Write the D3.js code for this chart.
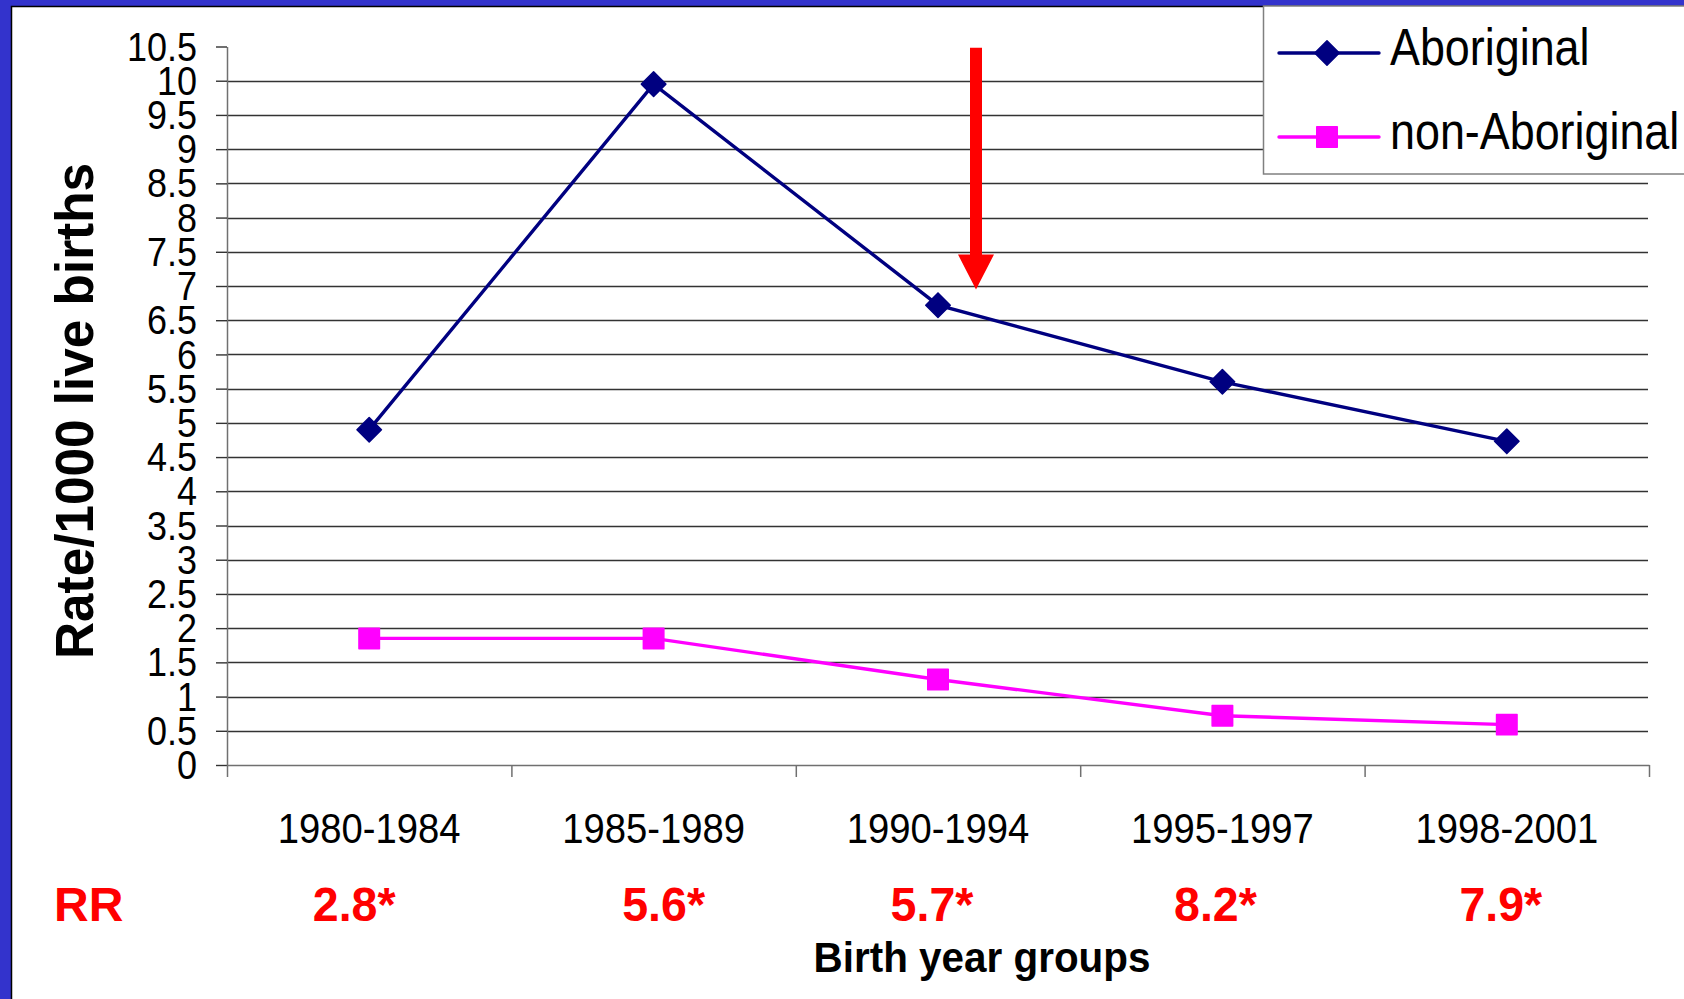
<!DOCTYPE html>
<html>
<head>
<meta charset="utf-8">
<script src="https://cdnjs.cloudflare.com/ajax/libs/d3/7.8.5/d3.min.js"></script>
<style>
html, body { margin:0; padding:0; background:#fff; }
svg { display:block; font-family:"Liberation Sans", Arial, sans-serif; }
</style>
</head>
<body>
<svg id="chart"></svg>
<script>

/*Values*/
var groups = ["1980-1984", "1985-1989", "1990-1994", "1995-1997", "1998-2001"];
var aboriginal = [4.9, 9.95, 6.72, 5.6, 4.73];
var nonAboriginal = [1.85, 1.85, 1.25, 0.72, 0.59];
var rrLabels = ["2.8*", "5.6*", "5.7*", "8.2*", "7.9*"];
var yTicks = [0, 0.5, 1, 1.5, 2, 2.5, 3, 3.5, 4, 4.5, 5, 5.5, 6, 6.5, 7, 7.5, 8, 8.5, 9, 9.5, 10, 10.5];
var seriesNames = ["Aboriginal", "non-Aboriginal"];
//red arrow annotation, from / to (rate units)
var arrowSpan = [10.48, 6.95];

/*Layout and styles*/
var local = {
    "width":1684,
    "height":999,
    "left":227,
    "right":1649,
    "top":46.5,
    "bottom":765,
    "navy":"#000080",
    "pink":"#ff00ff",
    "red":"#ff0000",
    "frame":"#3333cc",
    "grid":"#333333",
    "axis":"#707070",
    //RR text boxes are not quite centred under the groups
    "rrShift":[-15, 10, -6, -7, -6]
}

var svg = d3.select("#chart")
    .attr("width", local.width)
    .attr("height", local.height);

svg.append("rect").attr("width", local.width).attr("height", local.height).attr("fill", "#fff");

//blue slide frame, top and left
svg.append("rect").attr("x",0).attr("y",0).attr("width",local.width).attr("height",6).attr("fill",local.frame);
svg.append("rect").attr("x",0).attr("y",0).attr("width",11).attr("height",local.height).attr("fill",local.frame);
svg.append("path").attr("d","M11.5,999V6.5H1684").attr("fill","none").attr("stroke","#000").attr("stroke-width",1.5);

/*Scales*/
var x = d3.scaleBand().domain(groups).range([local.left, local.right]).padding(0);
var xEdge = d3.scaleLinear().domain([0, groups.length]).range([local.left, local.right]);
var y = d3.scaleLinear().domain([0, 10.5]).range([local.bottom, local.top]);

function xc(d) { return x(d) + x.bandwidth() / 2; }

//squeeze text a bit horizontally, like the original
function squeeze(sel, dx, dy, sx) {
    sel.attr("transform", "translate(" + dx + "," + dy + ") scale(" + sx + ",1)");
}

//Gridlines
svg.append("g")
    .selectAll("line")
    .data(yTicks.filter(function(d){ return d > 0 && d < 10.5; }))
    .enter()
    .append("line")
    .attr("x1", local.left)
    .attr("x2", local.right - 1)
    .attr("y1", function(d){ return Math.round(y(d)) + 0.5; })
    .attr("y2", function(d){ return Math.round(y(d)) + 0.5; })
    .attr("stroke", local.grid)
    .attr("stroke-width", 1.4);

//Y axis
var yAxis = svg.append("g")
    .attr("transform", "translate(" + local.left + ",0)")
    .call(d3.axisLeft(y).tickValues(yTicks).tickSize(11).tickSizeOuter(0)
        .tickFormat(function(d){ return d % 1 ? d.toFixed(1) : d; }));
yAxis.select(".domain").attr("stroke", local.axis).attr("stroke-width", 1.5);
yAxis.selectAll(".tick line").attr("stroke", local.grid).attr("stroke-width", 1.4);
yAxis.selectAll(".tick text")
    .attr("x", 0)
    .attr("dy", "0.34em")
    .attr("fill", "#000")
    .attr("font-size", 40)
    .attr("font-family", "Liberation Sans, Arial, sans-serif")
    .attr("transform", "translate(-30,0) scale(0.9,1)");

//X axis, ticks between the groups
var xAxis = svg.append("g")
    .attr("transform", "translate(0," + local.bottom + ")")
    .call(d3.axisBottom(xEdge).tickValues(d3.range(groups.length + 1)).tickSize(12).tickSizeOuter(0).tickFormat(""));
xAxis.select(".domain").attr("stroke", local.axis).attr("stroke-width", 1.5);
xAxis.selectAll(".tick line").attr("stroke", local.axis).attr("stroke-width", 1.5);

//Category labels
svg.append("g")
    .selectAll("text")
    .data(groups)
    .enter()
    .append("text")
    .attr("text-anchor", "middle")
    .attr("font-size", 42)
    .text(function(d){ return d; })
    .each(function(d){ squeeze(d3.select(this), xc(d), 843, 0.91); });

//RR row
svg.append("text")
    .attr("x", 54).attr("y", 921)
    .attr("font-size", 48).attr("font-weight", "bold")
    .attr("fill", local.red)
    .text("RR");

svg.append("g")
    .selectAll("text")
    .data(rrLabels)
    .enter()
    .append("text")
    .attr("text-anchor", "middle")
    .attr("font-size", 48)
    .attr("font-weight", "bold")
    .attr("fill", local.red)
    .text(function(d){ return d; })
    .each(function(d, i){ squeeze(d3.select(this), xc(groups[i]) + local.rrShift[i], 921, 0.97); });

//Axis titles
svg.append("text")
    .attr("text-anchor", "middle")
    .attr("font-size", 43)
    .attr("font-weight", "bold")
    .text("Birth year groups")
    .call(squeeze, 982, 972, 0.94);

svg.append("text")
    .attr("text-anchor", "middle")
    .attr("font-size", 54)
    .attr("font-weight", "bold")
    .attr("transform", "translate(93,411) rotate(-90) scale(0.95,1)")
    .text("Rate/1000 live births");

/*Series*/
var series = [
    {name: seriesNames[0], values: aboriginal, colour: local.navy, shape: "diamond"},
    {name: seriesNames[1], values: nonAboriginal, colour: local.pink, shape: "square"}
];

var line = d3.line()
    .x(function(d, i){ return xc(groups[i]); })
    .y(function(d){ return y(d); });

var diamond = d3.symbol().type(d3.symbolSquare).size(300);
var square = d3.symbol().type(d3.symbolSquare).size(420);

function marker(sel, s, px, py) {
    sel.append("path")
        .attr("d", s.shape == "diamond" ? diamond() : square())
        .attr("transform", "translate(" + px + "," + py + ")" + (s.shape == "diamond" ? " rotate(45)" : ""))
        .attr("fill", s.colour)
        .attr("stroke", s.colour)
        .attr("stroke-width", 1.5)
        .attr("stroke-linejoin", "round");
}

series.forEach(function(s){
    svg.append("path")
        .datum(s.values)
        .attr("d", line)
        .attr("fill", "none")
        .attr("stroke", s.colour)
        .attr("stroke-width", 3.4);
    var g = svg.append("g");
    s.values.forEach(function(v, i){ marker(g, s, xc(groups[i]), y(v)); });
});

//Red arrow pointing down at 1990-1994
var ax = xc(groups[2]) + 38;
var a0 = y(arrowSpan[0]), a1 = y(arrowSpan[1]);
svg.append("path")
    .attr("d", "M" + (ax - 6) + "," + a0 + "H" + (ax + 6) + "V" + (a1 - 35) + "H" + (ax + 18) +
        "L" + ax + "," + a1 + "L" + (ax - 18) + "," + (a1 - 35) + "H" + (ax - 6) + "Z")
    .attr("fill", local.red);

/*Legend*/
var legend = svg.append("g");
legend.append("rect")
    .attr("x", 1263.5).attr("y", 6).attr("width", 500).attr("height", 168)
    .attr("fill", "#fff").attr("stroke", "#808080").attr("stroke-width", 1.5);

var legendRows = [53, 137];
series.forEach(function(s, i){
    var ly = legendRows[i];
    legend.append("line")
        .attr("x1", 1279).attr("x2", 1379).attr("y1", ly).attr("y2", ly)
        .attr("stroke", s.colour).attr("stroke-width", 3.4).attr("stroke-linecap", "round");
    marker(legend, s, 1327, ly);
    legend.append("text")
        .attr("font-size", 51)
        .text(s.name)
        .call(squeeze, 1390, ly + 12, 0.88);
});

</script>
</body>
</html>
